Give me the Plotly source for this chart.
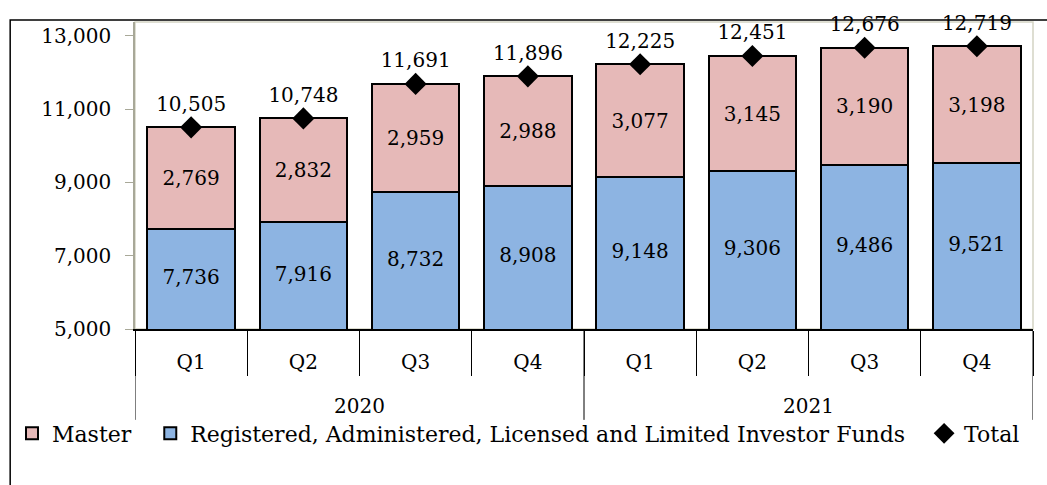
import plotly.graph_objects as go

# 분기별 펀드 수
years = ["2020"] * 4 + ["2021"] * 4
quarters = ["Q1", "Q2", "Q3", "Q4", "Q1", "Q2", "Q3", "Q4"]
registered = [7736, 7916, 8732, 8908, 9148, 9306, 9486, 9521]
master = [2769, 2832, 2959, 2988, 3077, 3145, 3190, 3198]
total = [10505, 10748, 11691, 11896, 12225, 12451, 12676, 12719]
y_min, y_max = 5000, 13000

font = "DejaVu Serif"
pos = list(range(len(quarters)))
pad = "\u00a0\u00a0"  # 범례 항목 사이 간격

fig = go.Figure()

fig.add_trace(go.Bar(
    x=pos, y=registered,
    name="Registered, Administered, Licensed and Limited Investor Funds" + pad,
    marker=dict(color="#8DB4E2", line=dict(color="black", width=2)),
    legendrank=2,
))
fig.add_trace(go.Bar(
    x=pos, y=master, name="Master" + pad,
    marker=dict(color="#E6B9B8", line=dict(color="black", width=2)),
    text=[f"{v:,}" for v in master], textposition="inside",
    insidetextanchor="middle", textangle=0,
    textfont=dict(family=font, size=20, color="black"),
    legendrank=1,
))
# 파란 막대 라벨 (보이는 구간의 가운데)
fig.add_trace(go.Scatter(
    x=pos, y=[(y_min + v) / 2 for v in registered], mode="text",
    text=[f"{v:,}" for v in registered],
    textfont=dict(family=font, size=20, color="black"),
    showlegend=False, hoverinfo="skip",
))
fig.add_trace(go.Scatter(
    x=pos, y=total, name="Total", mode="markers+text",
    marker=dict(symbol="diamond", size=17, color="black"),
    text=[f"{v:,}" for v in total], textposition="top center",
    textfont=dict(family=font, size=20, color="black"),
    cliponaxis=False, legendrank=3,
))

# 연도 라벨과 구분선
for yr in ["2020", "2021"]:
    idx = [i for i, y in enumerate(years) if y == yr]
    fig.add_annotation(x=sum(idx) / len(idx), y=-0.25, xref="x", yref="paper",
                       yanchor="middle", text=yr, showarrow=False,
                       font=dict(family=font, size=20))
bounds = [-0.5] + [i + 0.5 for i in range(len(years) - 1) if years[i] != years[i + 1]] + [len(years) - 0.5]
for b in bounds:
    fig.add_shape(type="line", xref="x", yref="paper", x0=b, x1=b, y0=0, y1=-0.296,
                  line=dict(color="black", width=1))

# 바깥 테두리와 플롯 영역 테두리
fig.add_shape(type="rect", xref="paper", yref="paper",
              x0=-0.139, x1=1.05, y0=-0.75, y1=1.0065,
              line=dict(color="black", width=1.5), layer="below")
fig.add_shape(type="rect", xref="paper", yref="paper",
              x0=0, x1=1, y0=0, y1=1,
              line=dict(color="#D4D4C4", width=1.5), layer="below")

fig.update_layout(
    width=1047, height=485,
    margin=dict(l=133, r=14, t=22, b=156),
    barmode="stack", bargap=0.22,
    plot_bgcolor="white", paper_bgcolor="white",
    font=dict(family=font, size=20, color="black"),
    showlegend=True,
    legend=dict(orientation="h", x=-0.137, xanchor="left", y=-0.272, yanchor="top",
                font=dict(family=font, size=22), bgcolor="rgba(0,0,0,0)",
                traceorder="normal"),
    xaxis=dict(range=[-0.5, len(quarters) - 0.5], tickvals=pos, ticktext=quarters,
               showline=True, linecolor="black", linewidth=1.5, showgrid=False,
               zeroline=False, ticks="", ticklabelstandoff=14, automargin=False,
               minor=dict(tickvals=[p - 0.5 for p in pos] + [len(pos) - 0.5],
                          ticks="outside", ticklen=45, tickcolor="black", tickwidth=1,
                          showgrid=False),
               tickfont=dict(family=font, size=20)),
    yaxis=dict(range=[y_min, 13380], tickvals=list(range(y_min, y_max + 1, 2000)),
               tickformat=",", showgrid=False, zeroline=False, automargin=False,
               showline=True, linecolor="#A8A898", linewidth=1.5,
               ticks="outside", ticklen=8, tickcolor="#A8A898", ticklabelstandoff=10,
               tickfont=dict(family=font, size=20)),
)

fig.write_html("out.html", config={"displayModeBar": False},
               post_script="document.body.style.margin='0';")
